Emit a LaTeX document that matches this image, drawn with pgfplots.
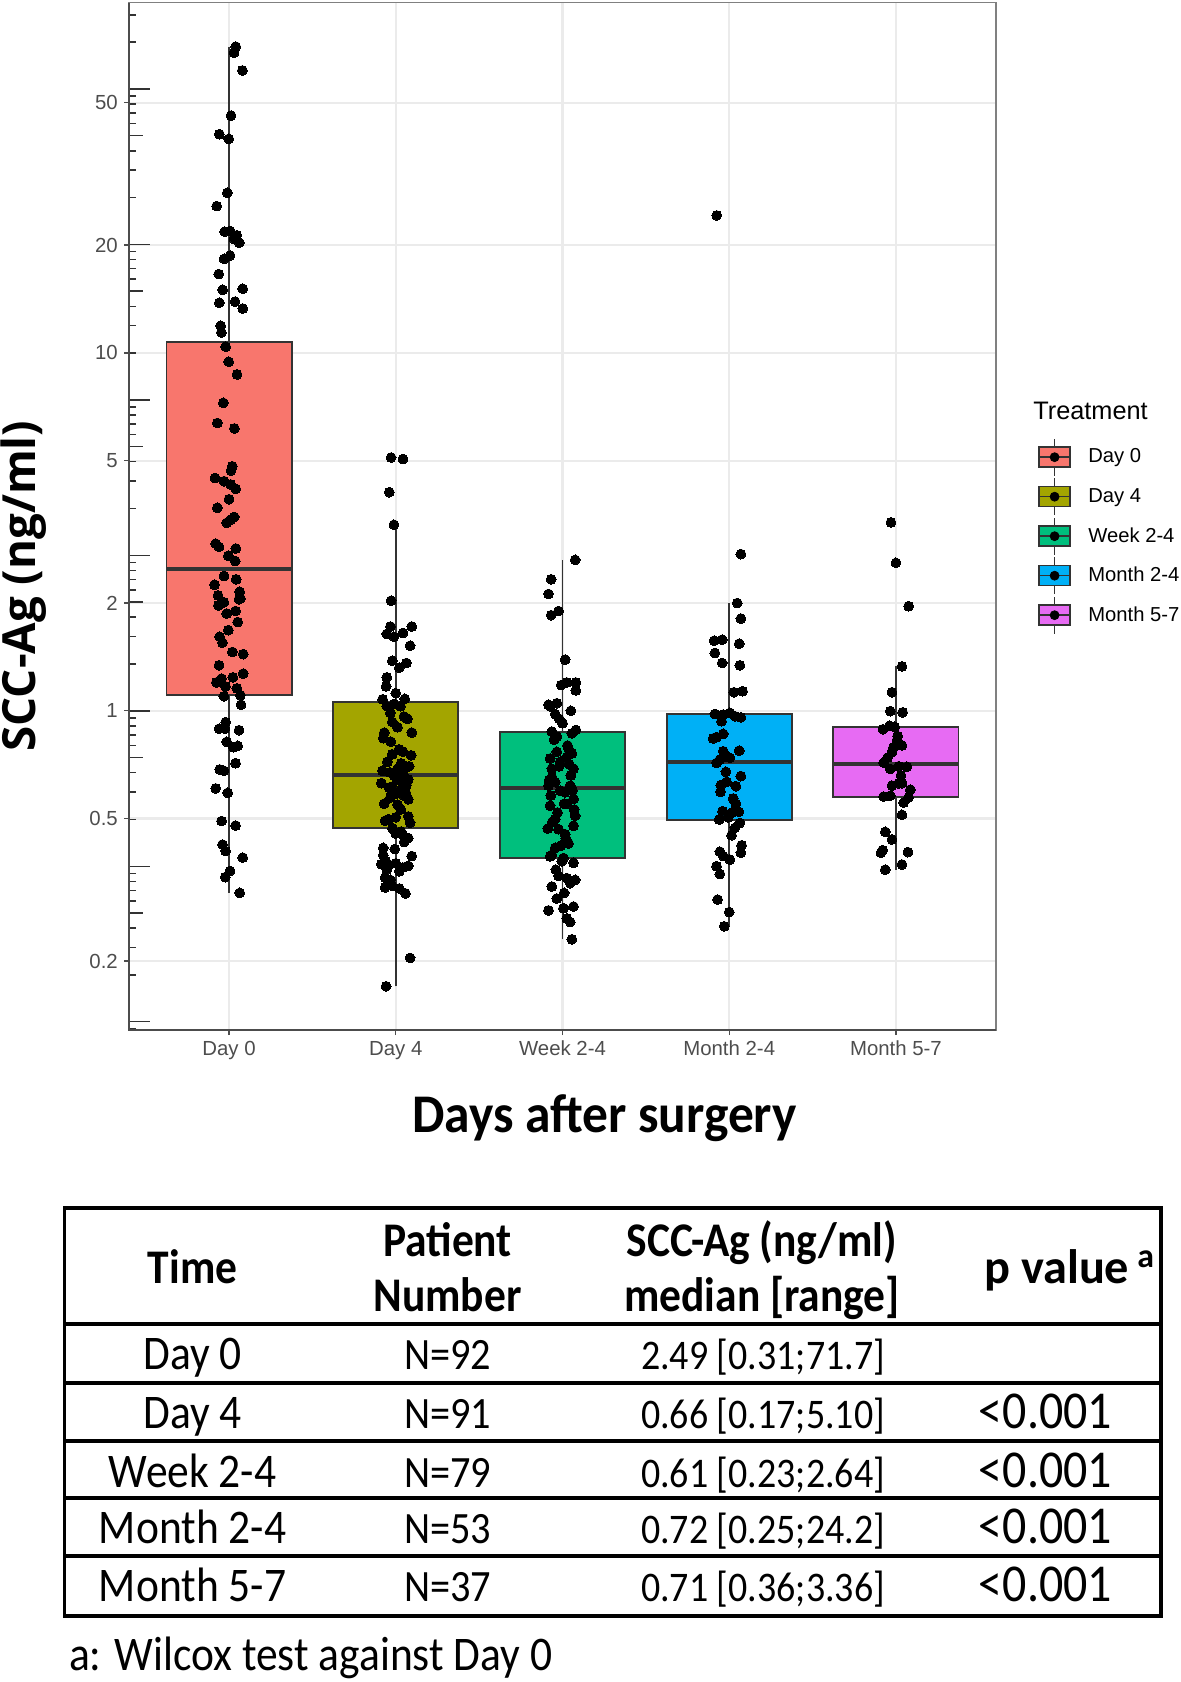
\documentclass[border=0pt]{standalone}
\usepackage{pgfplots}
\pgfplotsset{compat=1.18}
\usepackage{graphicx}
\usepackage{fontspec}
\setmainfont{Liberation Sans}
\newfontfamily\carlito{Carlito}
\newfontfamily\opensans{Open Sans}

\definecolor{cday0}{HTML}{F8766D}
\definecolor{cday4}{HTML}{A3A500}
\definecolor{cweek}{HTML}{00BF7D}
\definecolor{cmon}{HTML}{00B0F6}
\definecolor{cmon5}{HTML}{E76BF3}
\definecolor{boxline}{HTML}{333333}
\definecolor{gray30}{HTML}{4D4D4D}
\definecolor{gridc}{HTML}{EBEBEB}

% legend key: box, whiskers, median, dot
\pgfplotsset{boxkey/.style={legend image code/.code={
  \draw[line width=0.9pt, draw=boxline] (0.31cm,-0.37cm) -- (0.31cm,0.37cm);
  \filldraw[fill=#1, draw=boxline, line width=0.9pt] (0cm,-0.2cm) rectangle (0.62cm,0.2cm);
  \draw[line width=0.9pt, draw=boxline] (0cm,0cm) -- (0.62cm,0cm);
  \fill[black] (0.31cm,0cm) circle (0.09cm);
  \path[draw=none, fill=none] (0cm,-0.395cm) rectangle (0.62cm,0.395cm);
}}}

% slightly condensed table text
\newcommand{\cond}[1]{\scalebox{0.9}[1]{#1}}

\begin{document}
\begin{tikzpicture}
\useasboundingbox (0,0) rectangle (23.6,-33.64);

\begin{axis}[
  at={(2.58cm,-20.6cm)}, anchor=south west,
  scale only axis, width=17.34cm, height=20.55cm,
  xmin=0.4, xmax=5.6,
  ymode=log, ymin=0.1283, ymax=95.2,
  xtick={1,2,3,4,5},
  xticklabels={Day 0,Day 4,Week 2-4,Month 2-4,Month 5-7},
  ytick={0.2,0.5,1,2,5,10,20,50},
  yticklabels={0.2,0.5,1,2,5,10,20,50},
  minor ytick={},
  xtick pos=bottom, ytick pos=left,
  tick align=outside, major tick length=0.1cm,
  tick style={black!70, line width=0.8pt},
  ticklabel style={font=\fontsize{11.6}{13}\selectfont, text=gray30},
  grid=major, major grid style={gridc, line width=1.2pt},
  axis line style={black!50, line width=0.9pt},
  clip=false,
  legend style={at={(axis description cs:1.0488,0.5767)}, anchor=north west,
    draw=none, fill=none, inner sep=0pt, outer sep=0pt, row sep=0pt,
    column sep=0.35cm, font=\fontsize{11.5}{13}\selectfont,
    nodes={inner sep=0pt, outer sep=0pt}},
  legend cell align=left,
]

% log ticks drawn inside the left axis (natural-log spaced, as in the original)
\foreach \k in {-3,...,4}{
  \foreach \m/\len in {1/0.42,2/0.14,3/0.14,4/0.14,5/0.28,6/0.14,7/0.14,8/0.14,9/0.14}{
    \pgfmathsetmacro\v{exp(\k+log10(\m))}
    \pgfmathparse{and(\v>0.1283,\v<95.2)}
    \ifdim\pgfmathresult pt>0.5pt
      \edef\temp{\noexpand\draw[black!80, line width=0.85pt] (axis cs:0.4,\v) -- ++(\len cm,0pt);}
      \temp
    \fi
  }
}

% ---- whiskers
\addplot[forget plot, boxline, line width=1.1pt] coordinates {(1,0.31) (1,71.7)};
\addplot[forget plot, boxline, line width=1.1pt] coordinates {(2,0.17) (2,3.31)};
\addplot[forget plot, boxline, line width=1.1pt] coordinates {(3,0.23) (3,2.64)};
\addplot[forget plot, boxline, line width=1.1pt] coordinates {(4,0.25) (4,2.0)};
\addplot[forget plot, boxline, line width=1.1pt] coordinates {(5,0.36) (5,1.33)};

% ---- boxes (Q1 to Q3)
\addplot[forget plot, fill=cday0, draw=boxline, line width=1.1pt] coordinates {(0.625,1.11) (1.375,1.11) (1.375,10.7) (0.625,10.7)} -- cycle;
\addplot[forget plot, fill=cday4, draw=boxline, line width=1.1pt] coordinates {(1.625,0.47) (2.375,0.47) (2.375,1.06) (1.625,1.06)} -- cycle;
\addplot[forget plot, fill=cweek, draw=boxline, line width=1.1pt] coordinates {(2.625,0.388) (3.375,0.388) (3.375,0.875) (2.625,0.875)} -- cycle;
\addplot[forget plot, fill=cmon, draw=boxline, line width=1.1pt] coordinates {(3.625,0.494) (4.375,0.494) (4.375,0.98) (3.625,0.98)} -- cycle;
\addplot[forget plot, fill=cmon5, draw=boxline, line width=1.1pt] coordinates {(4.625,0.573) (5.375,0.573) (5.375,0.902) (4.625,0.902)} -- cycle;

% ---- medians
\addplot[forget plot, boxline, line width=2.2pt] coordinates {(0.625,2.49) (1.375,2.49)};
\addplot[forget plot, boxline, line width=2.2pt] coordinates {(1.625,0.66) (2.375,0.66)};
\addplot[forget plot, boxline, line width=2.2pt] coordinates {(2.625,0.61) (3.375,0.61)};
\addplot[forget plot, boxline, line width=2.2pt] coordinates {(3.625,0.72) (4.375,0.72)};
\addplot[forget plot, boxline, line width=2.2pt] coordinates {(4.625,0.71) (5.375,0.71)};

% ---- jittered points
\pgfplotsset{pts/.style={forget plot, only marks, mark=*, mark size=2.8pt, mark options={fill=black, draw=black, line width=0pt}}}
% Day 0
\addplot[pts] coordinates {
(1.04,71.7) (1.03,68.9) (1.08,61.5) (1.012,46.0) (0.942,40.8) (0.998,39.6) (0.99,28.0) (0.926,25.7)
(0.974,21.8) (1.006,21.9) (1.046,21.3) (1.062,20.3) (1.006,18.7) (0.97,18.3) (0.938,16.6) (0.962,15.0)
(1.082,15.1) (0.942,13.8) (1.036,13.9) (1.082,13.3) (0.95,11.9) (0.954,11.4) (0.98,10.4) (0.998,9.44)
(1.048,8.70) (0.966,7.25) (0.93,6.37) (1.032,6.15) (1.02,4.82) (1.012,4.69) (0.916,4.47) (0.97,4.38)
(1.01,4.29) (1.04,4.17) (0.93,3.69) (0.986,3.35) (1.031,3.48) (1.01,3.42) (0.92,2.93) (0.94,2.87)
(1.041,2.84) (0.996,2.71) (1.037,2.62) (1.043,2.33) (0.913,2.25) (1.064,2.15) (0.934,2.10) (0.969,2.01)
(0.936,1.97) (1.068,2.06) (0.986,1.87) (1.039,1.90) (1.052,1.77) (0.996,1.68) (0.944,1.61) (1.085,1.44)
(0.94,1.34) (1.085,1.27) (0.924,1.20) (0.955,1.23) (1.023,1.24) (0.979,1.17) (1.047,1.155) (0.969,1.098)
(1.068,1.105) (1.072,1.04) (0.94,0.891) (0.975,0.891) (1.06,0.883) (0.986,0.819) (1.027,0.791) (1.052,0.798)
(1.039,0.714) (0.944,0.686) (0.969,0.680) (0.92,0.607) (0.992,0.590) (0.955,0.492) (1.039,0.478) (0.961,0.423)
(0.979,0.406) (1.082,0.389) (1.006,0.357) (0.977,0.343) (1.064,0.31)
(0.97,2.38) (1.02,1.46) (0.98,0.93) (1.06,2.05) (0.96,1.55) (1.03,20.8) (1.0,3.9)
};
% Day 4
\addplot[pts] coordinates {
(1.972,5.10) (2.043,5.05) (1.961,4.08) (1.989,3.31) (1.972,2.03) (1.968,1.72) (2.096,1.72) (1.946,1.64)
(1.989,1.61) (2.043,1.65) (2.086,1.52) (1.979,1.38) (2.064,1.36) (2.021,1.32) (1.946,1.24) (1.942,1.17)
(1.921,1.077) (2.054,1.08) (1.989,1.045) (1.946,1.03) (2.028,1.03) (1.968,0.986) (2.049,0.964) (1.979,0.931)
(2.096,0.869) (1.931,0.869) (1.925,0.839) (1.979,0.756) (2.043,0.769) (2.092,0.751) (2.032,0.713) (2.064,0.697)
(2.011,0.689) (1.964,0.673) (2.047,0.658) (2.075,0.643) (1.914,0.628) (2.011,0.643) (1.979,0.614) (2.064,0.62)
(2.032,0.600) (1.968,0.573) (2.011,0.547) (2.075,0.566) (2.049,0.579) (2.0,0.586) (1.936,0.493) (2.0,0.504)
(2.075,0.507) (2.086,0.487) (1.957,0.498) (2.0,0.454) (2.043,0.449) (2.075,0.441) (2.032,0.46) (1.925,0.414)
(1.994,0.411) (1.925,0.395) (2.096,0.393) (1.914,0.373) (1.957,0.372) (2.0,0.375) (2.043,0.365) (2.075,0.369)
(1.946,0.36) (2.021,0.356) (1.936,0.342) (1.968,0.337) (1.936,0.321) (1.979,0.324) (2.021,0.319) (2.058,0.309)
(2.086,0.204) (1.942,0.17)
(1.95,0.72) (2.02,0.78) (1.99,0.66) (2.06,0.59) (1.93,0.55) (2.04,0.63) (1.97,0.82) (2.01,0.9)
(1.92,0.68) (2.08,0.7) (1.96,0.61) (2.03,0.53) (1.98,0.47) (2.05,0.43) (1.94,0.38) (2.0,1.12) (2.07,0.95)
};
% Week 2-4
\addplot[pts] coordinates {
(3.076,2.64) (2.932,2.33) (2.916,2.12) (2.932,1.85) (2.976,1.90) (3.016,1.39) (2.992,1.18) (3.026,1.20)
(3.08,1.20) (3.08,1.14) (2.916,1.04) (2.966,1.05) (2.926,1.03) (2.956,0.979) (3.0,0.923) (2.936,0.875)
(2.966,0.847) (3.08,0.884) (3.056,0.865) (2.966,0.768) (3.036,0.785) (3.056,0.76) (2.926,0.736) (3.026,0.744)
(2.986,0.72) (3.066,0.689) (2.936,0.689) (2.936,0.653) (2.916,0.618) (2.956,0.632) (2.986,0.598) (3.046,0.618)
(3.016,0.592) (3.066,0.567) (3.026,0.549) (2.926,0.543) (3.076,0.509) (2.956,0.498) (2.912,0.469) (2.976,0.467)
(3.016,0.452) (3.066,0.477) (3.036,0.426) (2.956,0.414) (2.936,0.396) (3.006,0.388) (2.926,0.392) (2.996,0.38)
(3.066,0.376) (2.976,0.346) (3.026,0.341) (3.076,0.337) (3.046,0.33) (2.936,0.323) (2.966,0.299) (2.916,0.277)
(3.006,0.281) (3.066,0.284) (3.026,0.263) (3.046,0.257) (3.056,0.23)
(2.95,0.83) (3.03,0.80) (2.98,0.70) (3.05,0.66) (2.93,0.58) (3.01,0.55) (2.97,0.52) (3.06,0.6)
(2.94,0.49) (3.02,0.44) (2.99,0.42) (3.07,0.53) (2.92,0.64) (3.04,0.71) (2.96,0.36) (3.01,0.31) (2.98,0.95) (3.05,1.0)
};
% Month 2-4
\addplot[pts] coordinates {
(3.925,24.2) (4.07,2.74) (4.048,2.0) (4.07,1.81) (3.91,1.57) (3.958,1.58) (4.06,1.54) (3.914,1.45)
(3.958,1.36) (4.064,1.34) (4.028,1.127) (4.08,1.134) (3.914,0.98) (3.964,0.976) (4.004,0.987) (4.034,0.966)
(4.07,0.959) (3.954,0.935) (3.964,0.862) (3.924,0.844) (3.904,0.837) (4.06,0.774) (3.964,0.771) (3.974,0.746)
(3.944,0.731) (3.924,0.715) (4.004,0.739) (3.98,0.675) (4.07,0.657) (3.984,0.633) (4.04,0.616) (3.948,0.594)
(4.024,0.569) (3.96,0.524) (4.014,0.519) (4.058,0.522) (3.94,0.497) (3.994,0.504) (4.064,0.486) (4.034,0.471)
(4.014,0.449) (4.074,0.421) (4.07,0.401) (3.944,0.404) (3.964,0.393) (4.004,0.384) (3.924,0.368) (3.944,0.35)
(3.93,0.297) (4.0,0.274) (3.97,0.25) (3.95,0.62) (4.04,0.55)
};
% Month 5-7
\addplot[pts] coordinates {
(4.97,3.36) (5.0,2.59) (5.076,1.96) (5.036,1.33) (4.976,1.127) (4.966,0.998) (5.04,0.99) (4.922,0.888)
(4.962,0.908) (4.992,0.902) (5.006,0.827) (4.986,0.792) (5.036,0.80) (4.976,0.767) (4.926,0.716) (4.966,0.688)
(5.016,0.70) (5.066,0.698) (4.976,0.618) (5.016,0.627) (5.036,0.628) (5.086,0.602) (5.076,0.573) (4.926,0.576)
(4.966,0.579) (5.046,0.554) (5.036,0.512) (4.936,0.459) (4.976,0.437) (4.92,0.408) (4.91,0.401) (5.072,0.403)
(5.036,0.372) (4.936,0.36) (4.95,0.74) (5.03,0.66) (5.01,0.85)
};

% darker left and bottom axis lines
\draw[black!70, line width=1.3pt] (rel axis cs:0,1) -- (rel axis cs:0,0) -- (rel axis cs:1,0);

% ---- legend
\addlegendimage{boxkey=cday0} \addlegendentry{Day 0}
\addlegendimage{boxkey=cday4} \addlegendentry{Day 4}
\addlegendimage{boxkey=cweek} \addlegendentry{Week 2-4}
\addlegendimage{boxkey=cmon} \addlegendentry{Month 2-4}
\addlegendimage{boxkey=cmon5} \addlegendentry{Month 5-7}
\end{axis}

\node[anchor=base west, font=\fontsize{14.4}{16}\selectfont, inner sep=0pt] at (20.66,-8.40) {Treatment};

% axis titles
\node[rotate=90, anchor=center, font=\opensans\bfseries\fontsize{26}{30}\selectfont, inner sep=0pt] at (0.472,-11.72) {SCC-Ag (ng/ml)};
\node[anchor=base, font=\carlito\bfseries\fontsize{31}{36}\selectfont, inner sep=0pt] at (12.09,-22.64) {\scalebox{0.945}[1]{Days after surgery}};

% ---- table
\begin{scope}[line width=2.1pt]
\draw (1.288,-24.16) rectangle (23.214,-32.32);
\foreach \yy in {-26.474,-27.654,-28.82,-29.954,-31.114}{\draw (1.288,\yy) -- (23.214,\yy);}
\end{scope}
\begin{scope}[every node/.style={anchor=base, inner sep=0pt}]
\tikzset{hd/.style={font=\carlito\bfseries\fontsize{27.5}{32}\selectfont}}
\node[hd] at (3.852,-25.66) {\cond{Time}};
\node[hd] at (8.952,-25.12) {\cond{Patient}};
\node[hd] at (8.952,-26.22) {\cond{Number}};
\node[hd] at (15.24,-25.12) {\cond{SCC-Ag (ng/ml)}};
\node[hd] at (15.24,-26.22) {\cond{median [range]}};
\node[hd] at (21.39,-25.66) {p value\,\textsuperscript{a}};
\tikzset{c1/.style={font=\carlito\fontsize{27.5}{32}\selectfont},
  c2/.style={font=\carlito\fontsize{25.5}{30}\selectfont},
  c3/.style={font=\carlito\fontsize{24}{28}\selectfont},
  c4/.style={font=\carlito\fontsize{30.3}{34}\selectfont}}
\node[c1] at (3.852,-27.394) {\cond{Day 0}};
\node[c1] at (3.852,-28.574) {\cond{Day 4}};
\node[c1] at (3.852,-29.74) {\cond{Week 2-4}};
\node[c1] at (3.852,-30.874) {\cond{Month 2-4}};
\node[c1] at (3.852,-32.034) {\cond{Month 5-7}};
\node[c2] at (8.952,-27.394) {\cond{N=92}};
\node[c2] at (8.952,-28.574) {\cond{N=91}};
\node[c2] at (8.952,-29.74) {\cond{N=79}};
\node[c2] at (8.952,-30.874) {\cond{N=53}};
\node[c2] at (8.952,-32.034) {\cond{N=37}};
\node[c3] at (15.26,-27.394) {\cond{2.49 [0.31;71.7]}};
\node[c3] at (15.26,-28.574) {\cond{0.66 [0.17;5.10]}};
\node[c3] at (15.26,-29.74) {\cond{0.61 [0.23;2.64]}};
\node[c3] at (15.26,-30.874) {\cond{0.72 [0.25;24.2]}};
\node[c3] at (15.26,-32.034) {\cond{0.71 [0.36;3.36]}};
\node[c4] at (20.908,-28.574) {\cond{<0.001}};
\node[c4] at (20.908,-29.74) {\cond{<0.001}};
\node[c4] at (20.908,-30.874) {\cond{<0.001}};
\node[c4] at (20.908,-32.034) {\cond{<0.001}};
\end{scope}
\node[anchor=base west, inner sep=0pt, font=\carlito\fontsize{27.5}{32}\selectfont] at (1.374,-33.40) {\cond{a: Wilcox test against Day 0}};
\end{tikzpicture}
\end{document}
